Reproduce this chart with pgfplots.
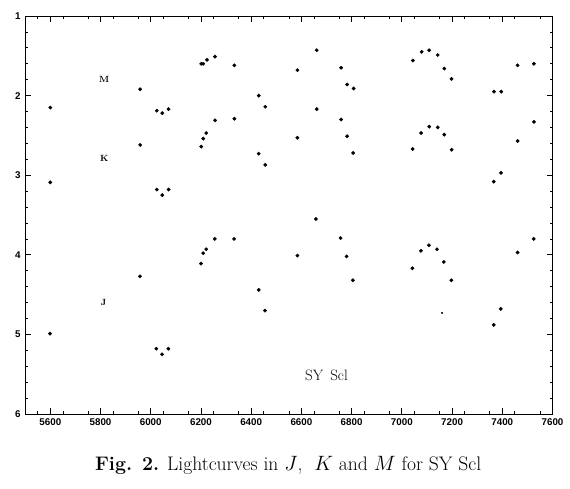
\documentclass[border=0pt]{standalone}
\usepackage{pgfplots}
\pgfplotsset{compat=1.18}
\usepackage{fontspec}
\newfontfamily\tickfont{Liberation Sans}
\begin{document}
\begin{tikzpicture}
\useasboundingbox (-25.2pt,-74pt) rectangle (544.8pt,414pt);
\begin{axis}[
  at={(0pt,0pt)}, anchor=south west,
  scale only axis, width=527.3pt, height=398pt,
  xmin=5500, xmax=7600, ymin=1, ymax=6, y dir=reverse,
  xtick={5600,5800,...,7600},
  minor xtick={5550,5650,...,7550},
  ytick={1,2,...,6},
  minor ytick={1.2,1.4,1.6,1.8,2.2,2.4,2.6,2.8,3.2,3.4,3.6,3.8,4.2,4.4,4.6,4.8,5.2,5.4,5.6,5.8},
  tick align=inside,
  major tick length=6pt, minor tick length=3pt,
  every tick/.style={black, line width=0.7pt},
  axis line style={line width=0.8pt},
  /pgf/number format/assume math mode=true,
  /pgf/number format/set thousands separator={},
  tick label style={font=\tickfont\bfseries\fontsize{9.8}{11}\selectfont},
  xticklabel style={yshift=-1pt},
  yticklabel style={xshift=-1pt},
  clip=false,
]
% M
\addplot[only marks, mark=*, mark size=1.7pt, black] coordinates {
(5600,2.15)(5958,1.92)(6024,2.19)(6046,2.22)(6071,2.17)
(6201,1.60)(6209,1.60)(6224,1.55)(6256,1.51)(6333,1.62)
(6430,2.00)(6456,2.14)(6584,1.68)(6661,1.43)(6758,1.65)
(6782,1.86)(6808,1.91)(7044,1.56)(7079,1.45)(7109,1.43)
(7143,1.49)(7169,1.66)(7198,1.79)(7367,1.95)(7396,1.95)
(7461,1.62)(7526,1.60)
};
% K
\addplot[only marks, mark=*, mark size=1.7pt, black] coordinates {
(5600,3.09)(5958,2.62)(6024,3.18)(6046,3.25)(6071,3.18)
(6201,2.64)(6209,2.54)(6221,2.47)(6256,2.31)(6333,2.29)
(6430,2.73)(6456,2.87)(6584,2.53)(6661,2.17)(6758,2.30)
(6782,2.51)(6806,2.72)(7043,2.67)(7077,2.47)(7109,2.39)
(7143,2.40)(7169,2.49)(7198,2.68)(7366,3.08)(7395,2.97)
(7461,2.57)(7526,2.33)
};
% J
\addplot[only marks, mark=*, mark size=1.7pt, black] coordinates {
(5599,4.99)(5957,4.27)(6022,5.18)(6045,5.25)(6070,5.18)
(6200,4.11)(6209,3.98)(6221,3.93)(6255,3.80)(6332,3.80)
(6430,4.44)(6455,4.70)(6584,4.01)(6658,3.55)(6756,3.79)
(6780,4.02)(6805,4.32)(7042,4.17)(7076,3.95)(7108,3.88)
(7140,3.93)(7167,4.09)(7197,4.32)(7366,4.88)(7394,4.68)
(7461,3.97)(7525,3.80)
};
\addplot[only marks, mark=*, mark size=0.8pt, black] coordinates {(7160,4.73)};
\node[font=\bfseries\fontsize{9}{10}\selectfont] at (axis cs:5815,1.80) {M};
\node[font=\bfseries\fontsize{9}{10}\selectfont] at (axis cs:5815,2.79) {K};
\node[font=\bfseries\fontsize{9}{10}\selectfont] at (axis cs:5812,4.60) {J};
\node[font=\fontsize{15}{17}\selectfont] at (axis cs:6700,5.51) {SY\hspace{7pt}Scl};
\end{axis}
\node[font=\fontsize{19.6}{22}\selectfont] at (263pt,-51pt) {\textbf{Fig. 2.} Lightcurves in $J$, \ $K$ and $M$ for SY Scl};
\end{tikzpicture}
\end{document}
